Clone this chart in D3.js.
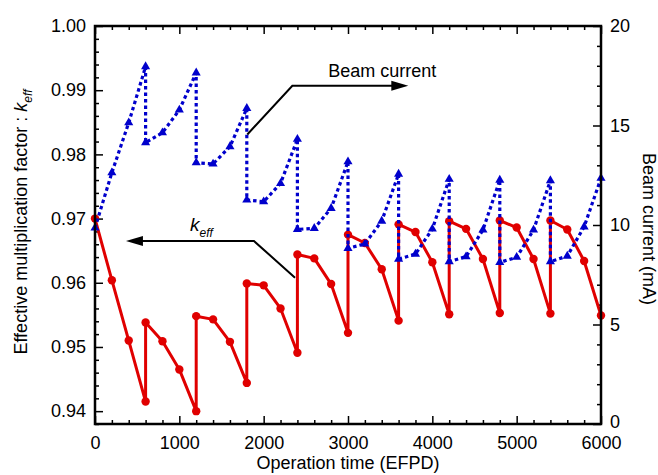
<!DOCTYPE html>
<html>
<head>
<meta charset="utf-8">
<script src="https://cdn.jsdelivr.net/npm/d3@7"></script>
<style>
  body { margin: 0; background: #fff; }
  svg text { font-family: Arial, "Liberation Sans", sans-serif; fill: #000; }
  .axis path { display: none; }
  .axis line { stroke: #000; stroke-width: 1.5; }
  .axis text { font-size: 18px; }
</style>
</head>
<body>
<svg id="chart" width="658" height="475"></svg>
<script>
// operation time (EFPD), every 200 with a reload step every 600
var efpd = [0, 200, 400, 600, 600, 800, 1000, 1200, 1200, 1400, 1600, 1800,
  1800, 2000, 2200, 2400, 2400, 2600, 2800, 3000, 3000, 3200, 3400, 3600,
  3600, 3800, 4000, 4200, 4200, 4400, 4600, 4800, 4800, 5000, 5200, 5400,
  5400, 5600, 5800, 6000];

var keff = [0.9700, 0.9604, 0.9510, 0.9415, 0.9538, 0.9509, 0.9465, 0.9400,
  0.9548, 0.9543, 0.9508, 0.9444, 0.9599, 0.9596, 0.9560, 0.9491,
  0.9644, 0.9638, 0.9598, 0.9522, 0.9675, 0.9662, 0.9621, 0.9541,
  0.9691, 0.9679, 0.9632, 0.9551, 0.9696, 0.9684, 0.9637, 0.9553,
  0.9697, 0.9686, 0.9637, 0.9552, 0.9697, 0.9683, 0.9634, 0.9549];

var beam = [9.85, 12.63, 15.14, 17.96, 14.14, 14.64, 15.78, 17.65,
  13.13, 13.07, 13.94, 15.86, 11.26, 11.17, 12.09, 14.31,
  9.78, 9.83, 10.84, 13.18, 8.83, 9.05, 10.20, 12.56,
  8.29, 8.54, 9.80, 12.30, 8.16, 8.41, 9.75, 12.26,
  8.12, 8.38, 9.75, 12.23, 8.16, 8.44, 9.91, 12.35];

var xTicks = [0, 1000, 2000, 3000, 4000, 5000, 6000];
var xMinor = [200, 400, 600, 800, 1200, 1400, 1600, 1800, 2200, 2400, 2600, 2800,
  3200, 3400, 3600, 3800, 4200, 4400, 4600, 4800, 5200, 5400, 5600, 5800];
var yLTicks = [0.94, 0.95, 0.96, 0.97, 0.98, 0.99, 1.00];
var yLMinor = [0.938, 0.942, 0.944, 0.946, 0.948, 0.952, 0.954, 0.956, 0.958,
  0.962, 0.964, 0.966, 0.968, 0.972, 0.974, 0.976, 0.978, 0.982, 0.984, 0.986,
  0.988, 0.992, 0.994, 0.996, 0.998];
var yRTicks = [0, 5, 10, 15, 20];
var yRMinor = [1, 2, 3, 4, 6, 7, 8, 9, 11, 12, 13, 14, 16, 17, 18, 19];

var margin = { top: 26, right: 57, bottom: 51, left: 95 };
var width = 658 - margin.left - margin.right;
var height = 475 - margin.top - margin.bottom;

var svg = d3.select("#chart").
  append("g").
  attr("transform", "translate(" + margin.left + "," + margin.top + ")");

var xScale = d3.scaleLinear().domain([0, 6000]).range([0, width]);
var yLeft = d3.scaleLinear().domain([0.938, 1.0]).range([height, 0]);
var yRight = d3.scaleLinear().domain([0, 20]).range([height, 0]);

// axes, ticks pointing inward
svg.append("g").attr("class", "axis").
  attr("transform", "translate(0," + height + ")").
  call(d3.axisBottom(xScale).tickValues(xTicks).tickSize(-8).tickPadding(12).tickFormat(d3.format("d")));
svg.append("g").attr("class", "axis").
  attr("transform", "translate(0," + height + ")").
  call(d3.axisBottom(xScale).tickValues(xMinor).tickSize(-4).tickFormat(""));
svg.append("g").attr("class", "axis").
  call(d3.axisTop(xScale).tickValues(xTicks).tickSize(-8).tickFormat(""));
svg.append("g").attr("class", "axis").
  call(d3.axisTop(xScale).tickValues(xMinor).tickSize(-4).tickFormat(""));

svg.append("g").attr("class", "axis").
  call(d3.axisLeft(yLeft).tickValues(yLTicks).tickSize(-8).tickPadding(9).tickFormat(d3.format(".2f")));
svg.append("g").attr("class", "axis").
  call(d3.axisLeft(yLeft).tickValues(yLMinor).tickSize(-4).tickFormat(""));

svg.append("g").attr("class", "axis").
  attr("transform", "translate(" + width + ",0)").
  call(d3.axisRight(yRight).tickValues(yRTicks).tickSize(-8).tickPadding(9));
svg.append("g").attr("class", "axis").
  attr("transform", "translate(" + width + ",0)").
  call(d3.axisRight(yRight).tickValues(yRMinor).tickSize(-4).tickFormat(""));

// keep the right "0" clear of the "6000" label below it
svg.selectAll(".axis text").filter(function(d) { return d === 0 && this.getAttribute("x") > 0; }).
  attr("dy", "0.22em");

var kData = efpd.map(function(d, i) { return { x: d, y: keff[i] }; });
var bData = efpd.map(function(d, i) { return { x: d, y: beam[i] }; });

var kLine = d3.line().
  x(function(d) { return xScale(d.x); }).
  y(function(d) { return yLeft(d.y); });
var bLine = d3.line().
  x(function(d) { return xScale(d.x); }).
  y(function(d) { return yRight(d.y); });

svg.append("path").
  datum(kData).
  attr("fill", "none").
  attr("stroke", "#e00000").
  attr("stroke-width", 3).
  attr("stroke-linejoin", "round").
  attr("d", kLine);

svg.selectAll("circle.k").
  data(kData).
  enter().append("circle").
  attr("class", "k").
  attr("cx", function(d) { return xScale(d.x); }).
  attr("cy", function(d) { return yLeft(d.y); }).
  attr("r", 4.2).
  attr("fill", "#e00000");

svg.append("path").
  datum(bData).
  attr("fill", "none").
  attr("stroke", "#0000cc").
  attr("stroke-width", 3.2).
  attr("stroke-dasharray", "3.5,3").
  attr("d", bLine);

svg.selectAll("path.b").
  data(bData).
  enter().append("path").
  attr("class", "b").
  attr("transform", function(d) { return "translate(" + xScale(d.x) + "," + yRight(d.y) + ")"; }).
  attr("d", d3.symbol().type(d3.symbolTriangle).size(36)).
  attr("fill", "#0000cc");

// frame
svg.append("rect").
  attr("width", width).
  attr("height", height).
  attr("fill", "none").
  attr("stroke", "#000").
  attr("stroke-width", 2.5);

// annotations (positions in EFPD / keff units)
function arrow(pts) {
  var p = pts.map(function(d) { return [xScale(d[0]), yLeft(d[1])]; });
  var tip = p[p.length - 1];
  var prev = p[p.length - 2];
  var dir = tip[0] > prev[0] ? 1 : -1;
  var ln = p.slice();
  ln[ln.length - 1] = [tip[0] - dir * 12, tip[1]];
  svg.append("path").
    attr("d", d3.line()(ln)).
    attr("fill", "none").
    attr("stroke", "#000").
    attr("stroke-width", 2);
  svg.append("path").
    attr("d", d3.line()([[tip[0], tip[1]], [tip[0] - dir * 17, tip[1] - 5], [tip[0] - dir * 17, tip[1] + 5]]) + "Z").
    attr("fill", "#000");
}

arrow([[1806, 0.9831], [2340, 0.9907], [3715, 0.9907]]);
svg.append("text").
  attr("x", xScale(3407)).
  attr("y", yLeft(0.9920)).
  attr("text-anchor", "middle").
  style("font-size", "18px").
  text("Beam current");

arrow([[2372, 0.9608], [1885, 0.9665], [367, 0.9665]]);
var kt = svg.append("text").
  attr("x", xScale(1127)).
  attr("y", yLeft(0.9681)).
  style("font-size", "19px").
  style("font-style", "italic");
kt.append("tspan").text("k");
kt.append("tspan").attr("dy", 6).style("font-size", "12px").text("eff");

// axis titles
svg.append("text").
  attr("x", width / 2).
  attr("y", height + 45).
  attr("text-anchor", "middle").
  style("font-size", "18px").
  text("Operation time (EFPD)");

var lt = svg.append("text").
  attr("transform", "translate(" + (27 - margin.left) + "," + (222 - margin.top) + ") rotate(-90)").
  attr("text-anchor", "middle").
  style("font-size", "18px");
lt.append("tspan").text("Effective multiplication factor : ");
lt.append("tspan").style("font-style", "italic").text("k");
lt.append("tspan").attr("dy", 5).style("font-style", "italic").style("font-size", "12px").text("eff");

svg.append("text").
  attr("transform", "translate(" + (643 - margin.left) + "," + (229 - margin.top) + ") rotate(90)").
  attr("text-anchor", "middle").
  style("font-size", "18px").
  text("Beam current (mA)");
</script>
</body>
</html>
